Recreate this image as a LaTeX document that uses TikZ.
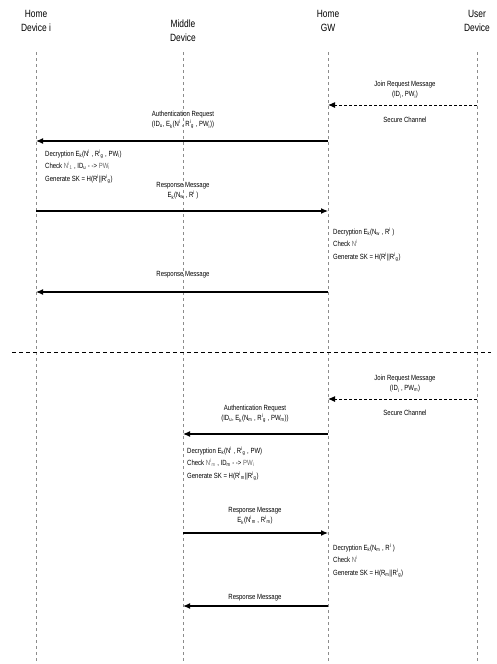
\documentclass[tikz,border=0pt]{standalone}
\usepackage{fontspec}
\setmainfont{Liberation Sans}[FakeStretch=0.8]
\usetikzlibrary{arrows.meta}
\newcommand{\sbs}[1]{\textsubscript{#1}}
\newcommand{\sps}[1]{\textsuperscript{#1}}
\begin{document}
\begin{tikzpicture}[x=1pt,y=-1pt,
  head/.style={align=center,font=\fontsize{10.5}{14}\selectfont,inner sep=0pt},
  lab/.style={align=center,font=\fontsize{7.5}{10}\selectfont,inner sep=0pt},
  blk/.style={align=left,anchor=north west,font=\fontsize{7.5}{12.5}\selectfont,inner sep=0pt},
  life/.style={draw=black!45,dash pattern=on 3pt off 3pt,line width=0.6pt},
  msg/.style={draw=black,line width=1.2pt,-{Latex[length=7pt,width=6pt]}},
  dmsg/.style={draw=black,line width=1pt,dash pattern=on 3pt off 2pt,-{Latex[length=7pt,width=6pt]}}]
\useasboundingbox (0,0) rectangle (497,664);
% heads
\node[head] (hd) at (36,21) {Home\\Device i};
\node[head] (md) at (183,31) {Middle\\Device};
\node[head] (gw) at (328,21) {Home\\GW};
\node[head] (ud) at (477,21) {User\\Device};
% lifelines
\foreach \n/\x in {hd/36,md/183,gw/328,ud/477}{
  \coordinate (\n top) at (\x,52);
  \coordinate (\n bot) at (\x,662);
  \draw[life] (\n top) -- (\n bot);
}
% separator
\coordinate (sepL) at (12,352);
\coordinate (sepR) at (491,352);
\draw[line width=1pt,dash pattern=on 4pt off 3pt] (sepL) -- (sepR);

% ===== upper part =====
\coordinate (j1a) at (477,105); \coordinate (j1b) at (328,105);
\draw[dmsg] (j1a) -- (j1b);
\node[lab] (j1t) at (405,90) {Join Request Message\\(ID\sbs{i}, PW\sbs{i})};
\node[lab] (j1s) at (405,120) {Secure Channel};

\coordinate (a1a) at (328,141); \coordinate (a1b) at (36,141);
\draw[msg] (a1a) -- (a1b);
\node[lab] (a1t) at (183,120) {Authentication Request\\(ID\sbs{u}, E\sbs{k}(N\sps{i} , R\sps{i}\sbs{g} , PW\sbs{i}))};

\node[blk] (d1) at (45,149) {Decryption E\sbs{k}(N\sps{i} , R\sps{i}\sbs{g} , PW\sbs{i})\\Check {\color{black!60}N\sps{i}\sbs{1}} , ID\sbs{u} - -> {\color{black!60}PW\sbs{i}}\\Generate SK = H(R\sps{i}||R\sps{i}\sbs{g})};

\coordinate (r1a) at (36,211); \coordinate (r1b) at (328,211);
\draw[msg] (r1a) -- (r1b);
\node[lab] (r1t) at (183,191) {Response Message\\E\sbs{k}(N\sbs{w} , R\sps{i} )};

\node[blk] (d2) at (333,227) {Decryption E\sbs{k}(N\sbs{w} , R\sps{i} )\\Check {\color{black!60}N\sps{i}}\\Generate SK = H(R\sps{i}||R\sps{i}\sbs{g})};

\coordinate (s1a) at (328,292); \coordinate (s1b) at (36,292);
\draw[msg] (s1a) -- (s1b);
\node[lab] (s1t) at (183,275) {Response Message};

% ===== lower part =====
\coordinate (j2a) at (477,399); \coordinate (j2b) at (328,399);
\draw[dmsg] (j2a) -- (j2b);
\node[lab] (j2t) at (405,384) {Join Request Message\\(ID\sbs{i} , PW\sbs{m})};
\node[lab] (j2s) at (405,413) {Secure Channel};

\coordinate (a2a) at (328,434); \coordinate (a2b) at (183,434);
\draw[msg] (a2a) -- (a2b);
\node[lab] (a2t) at (255,414) {Authentication Request\\(ID\sbs{u}, E\sbs{k}(N\sbs{m} , R\sps{i}\sbs{g} , PW\sbs{m}))};

\node[blk] (d3) at (187,446) {Decryption E\sbs{k}(N\sps{i} , R\sps{i}\sbs{g} , PW)\\Check {\color{black!60}N\sps{i}\sbs{m}} , ID\sbs{m} - -> {\color{black!60}PW\sbs{i}}\\Generate SK = H(R\sps{i}\sbs{m}||R\sps{i}\sbs{g})};

\coordinate (r2a) at (183,533); \coordinate (r2b) at (328,533);
\draw[msg] (r2a) -- (r2b);
\node[lab] (r2t) at (255,516) {Response Message\\E\sbs{k}(N\sps{i}\sbs{m} , R\sps{i}\sbs{m})};

\node[blk] (d4) at (333,543) {Decryption E\sbs{k}(N\sbs{m} , R\sps{i} )\\Check {\color{black!60}N\sps{i}}\\Generate SK = H(R\sbs{m}||R\sps{i}\sbs{g})};

\coordinate (s2a) at (328,606); \coordinate (s2b) at (183,606);
\draw[msg] (s2a) -- (s2b);
\node[lab] (s2t) at (255,598) {Response Message};
\end{tikzpicture}
\end{document}
